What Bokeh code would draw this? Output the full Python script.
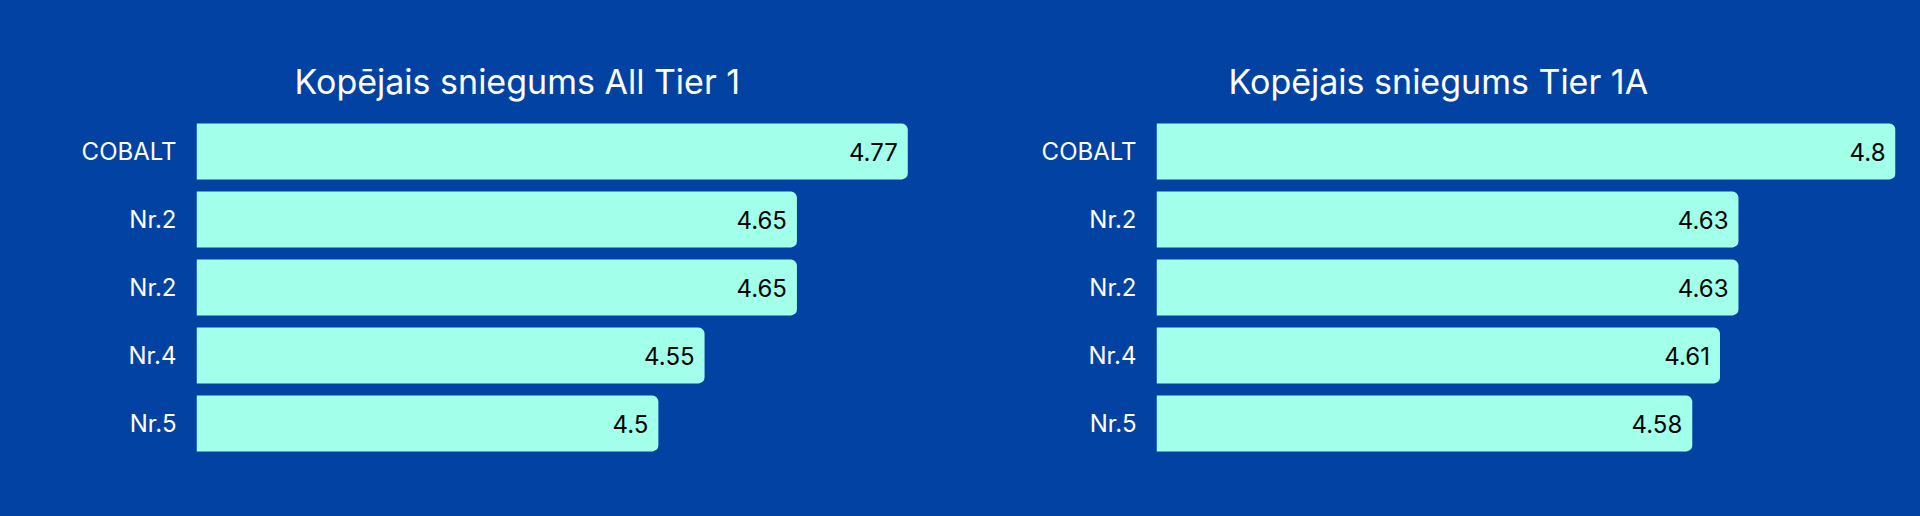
from bokeh.plotting import figure
from bokeh.layouts import row
from bokeh.models import Range1d, FixedTicker, ColumnDataSource
from bokeh.embed import file_html
from bokeh.resources import INLINE
from bokeh.core.properties import value

BG = "#0242a3"
BAR = "#a2ffea"
FONT = "Inter"

categories = ["COBALT", "Nr.2", "Nr.2", "Nr.4", "Nr.5"]
all_tier1 = [4.77, 4.65, 4.65, 4.55, 4.5]
tier1a = [4.8, 4.63, 4.63, 4.61, 4.58]
titles = ["Kopējais sniegums All Tier 1", "Kopējais sniegums Tier 1A"]
x_start, x_end = 4.0, 4.8


def make(title, vals, width, left, right, title_offset):
    n = len(categories)
    idx = list(range(n))
    src = ColumnDataSource(dict(y=idx, v=vals, lab=[f"{v:g}" for v in vals]))
    p = figure(width=width, height=505, output_backend="svg", toolbar_location=None,
               x_range=Range1d(x_start, x_end), y_range=Range1d(n - 0.5, -0.5),
               min_border_left=left, min_border_right=right,
               min_border_top=117, min_border_bottom=48)
    p.hbar(y="y", left=x_start, right="v", height=0.82, source=src,
           fill_color=BAR, line_color=None, border_radius=(0, 6, 6, 0))
    p.text(x="v", y="y", text="lab", source=src, x_offset=-10,
           text_align="right", text_baseline="middle",
           text_font=value(FONT), text_font_size="24px", text_color="#050505")
    p.title.text = title
    p.title.text_font = FONT
    p.title.text_font_size = "34px"
    p.title.text_font_style = "normal"
    p.title.text_color = "white"
    p.title.align = "left"
    p.title.offset = title_offset
    p.title.standoff = 32
    p.xaxis.visible = False
    p.grid.visible = False
    p.yaxis.ticker = FixedTicker(ticks=idx)
    p.yaxis.major_label_overrides = {i: c for i, c in enumerate(categories)}
    p.yaxis.axis_line_color = None
    p.yaxis.major_tick_line_color = None
    p.yaxis.minor_tick_line_color = None
    p.yaxis.major_tick_out = 0
    p.yaxis.major_tick_in = 0
    p.yaxis.major_label_standoff = 20
    p.yaxis.major_label_text_font = FONT
    p.yaxis.major_label_text_font_size = "24px"
    p.yaxis.major_label_text_color = "white"
    p.outline_line_color = None
    p.background_fill_color = BG
    p.border_fill_color = BG
    return p


p1 = make(titles[0], all_tier1, 967, 196, 32, 98)
p2 = make(titles[1], tier1a, 944, 189, 16, 72)
layout = row(p1, p2, spacing=0)

html = file_html(layout, INLINE)
html = html.replace("<head>", "<head><style>html,body{background:%s;}</style>" % BG, 1)
open("out.html", "w").write(html)
